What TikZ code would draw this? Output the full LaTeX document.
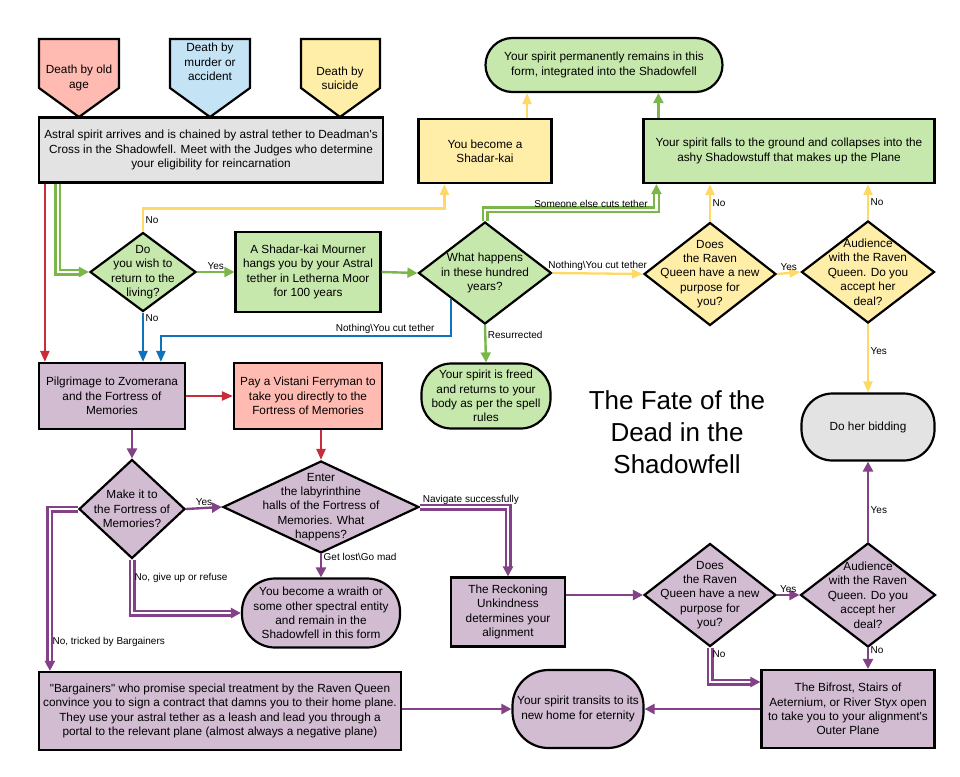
\documentclass[tikz,border=0pt]{standalone}
\usepackage{fontspec}
\setmainfont{Liberation Sans}
\usetikzlibrary{positioning}
\usetikzlibrary{shapes}
\usetikzlibrary{arrows.meta}
\usetikzlibrary{calc}

\definecolor{greenfill}{HTML}{C7E8AC}
\definecolor{greenline}{HTML}{7AB648}
\definecolor{yellowfill}{HTML}{FFEEA8}
\definecolor{yellowline}{HTML}{FFD966}
\definecolor{redfill}{HTML}{FFBBB1}
\definecolor{redline}{HTML}{C92D39}
\definecolor{bluefill}{HTML}{C4E4F6}
\definecolor{blueline}{HTML}{1072BA}
\definecolor{purplefill}{HTML}{D1BCD2}
\definecolor{purpleline}{HTML}{834187}
\definecolor{grayfill}{HTML}{E3E3E3}

\begin{document}
\begin{tikzpicture}[x=1pt, y=-1pt,
    txt/.style={align=center, font=\fontsize{11.8}{14.4}\selectfont},
    lbl/.style={font=\fontsize{10}{12}\selectfont, inner sep=1.5pt},
    box/.style={draw=black, line width=2.2pt, line join=miter},
    proc/.style={box, rectangle, inner sep=0pt, txt},
    term/.style={box, rectangle, inner sep=0pt, txt},
    quest/.style={box, diamond, inner sep=0pt},
    single/.style={line width=2.3pt, -{Triangle[length=11pt,width=9pt]}},
    dbl/.style={line width=2.4pt, double=white, double distance=2.2pt, -{Triangle[length=10pt,width=10pt]}}]
%     \draw[help lines](0,0) grid[step=20] (960,776);

    \useasboundingbox (0,0) rectangle (960,776);

    %%%% Ways to die %%%%

    \draw[box, fill=redfill] (39,39) -- (119,39) -- (119,88) -- (79,117) -- (39,88) -- cycle;
    \node[txt] (D1) at (79,78) {Death by old\\age};

    \draw[box, fill=bluefill] (170,39) -- (250,39) -- (250,88) -- (210,117) -- (170,88) -- cycle;
    \node[txt] (D2) at (210,62) {Death by\\murder or\\accident};

    \draw[box, fill=yellowfill] (301,39) -- (380,39) -- (380,88) -- (340,117) -- (301,88) -- cycle;
    \node[txt] (D3) at (340,78) {Death by\\suicide};

    \node[proc, fill=grayfill, minimum width=344, minimum height=65] (B1) at (211,150)
        {Astral spirit arrives and is chained by astral tether to Deadman\textquotesingle s\\Cross in the Shadowfell. Meet with the Judges who determine\\your eligibility for reincarnation};

    %%%% Green and yellow part %%%%

    \node[quest, fill=greenfill, minimum width=106, minimum height=79,
        label={[txt]center:{Do\\you wish to\\return to the\\living?}}] (Q1) at (143,272) {};

    \node[proc, fill=greenfill, minimum width=145, minimum height=80] (B2) at (308,272)
        {A Shadar-kai Mourner\\hangs you by your Astral\\tether in Letherna Moor\\for 100 years};

    \node[quest, fill=greenfill, minimum width=133, minimum height=102,
        label={[txt]center:{What happens\\in these hundred\\years?}}] (Q2) at (485,273) {};

    \node[proc, fill=yellowfill, minimum width=133, minimum height=64] (B3) at (485,151) {You become a\\Shadar-kai};

    \node[term, fill=greenfill, rounded corners=27pt, minimum width=237, minimum height=54] (E1) at (604,65)
        {Your spirit permanently remains in this\\form, integrated into the Shadowfell};

    \node[proc, fill=greenfill, minimum width=291, minimum height=64] (B4) at (789,151)
        {Your spirit falls to the ground and collapses into the\\ashy Shadowstuff that makes up the Plane};

    \node[quest, fill=yellowfill, minimum width=132, minimum height=103,
        label={[txt]center:{Does\\the Raven\\Queen have a new\\purpose for\\you?}}] (Q3) at (710,274) {};

    \node[quest, fill=yellowfill, minimum width=133, minimum height=102,
        label={[txt]center:{Audience\\with the Raven\\Queen. Do you\\accept her\\deal?}}] (Q4) at (868,272) {};

    \node[term, fill=greenfill, rounded corners=30pt, minimum width=129, minimum height=65] (E2) at (486,396)
        {Your spirit is freed\\and returns to your\\body as per the spell\\rules};

    \node[term, fill=grayfill, rounded corners=31pt, minimum width=133, minimum height=67] (E3) at (868,427) {Do her bidding};

    \node[align=center, font=\fontsize{26}{32}\selectfont] (T1) at (677,432) {The Fate of the\\Dead in the\\Shadowfell};

    %%%% Purple part %%%%

    \node[proc, fill=purplefill, minimum width=146, minimum height=66] (B5) at (112,396)
        {Pilgrimage to Zvomerana\\and the Fortress of\\Memories};

    \node[proc, fill=redfill, minimum width=148, minimum height=66] (B6) at (308,396)
        {Pay a Vistani Ferryman to\\take you directly to the\\Fortress of Memories};

    \node[quest, fill=purplefill, minimum width=106, minimum height=99,
        label={[txt]center:{Make it to\\the Fortress of\\Memories?}}] (Q5) at (132,509) {};

    \node[quest, fill=purplefill, minimum width=196, minimum height=92,
        label={[txt]center:{Enter\\the labyrinthine\\halls of the Fortress of\\Memories. What\\happens?}}] (Q6) at (321,507) {};

    \node[term, fill=purplefill, rounded corners=33pt, minimum width=158, minimum height=69] (E4) at (321,613)
        {You become a wraith or\\some other spectral entity\\and remain in the\\Shadowfell in this form};

    \node[proc, fill=purplefill, minimum width=114, minimum height=69] (B7) at (508,612)
        {The Reckoning\\Unkindness\\determines your\\alignment};

    \node[quest, fill=purplefill, minimum width=132, minimum height=103,
        label={[txt]center:{Does\\the Raven\\Queen have a new\\purpose for\\you?}}] (Q7) at (710,595) {};

    \node[quest, fill=purplefill, minimum width=135, minimum height=104,
        label={[txt]center:{Audience\\with the Raven\\Queen. Do you\\accept her\\deal?}}] (Q8) at (868,595) {};

    \node[proc, fill=purplefill, minimum width=173, minimum height=78] (B8) at (848,709)
        {The Bifrost, Stairs of\\Aeternium, or River Styx open\\to take you to your alignment\textquotesingle s\\Outer Plane};

    \node[term, fill=purplefill, rounded corners=36pt, minimum width=131, minimum height=78] (E5) at (578,709)
        {Your spirit transits to its\\new home for eternity};

    \node[proc, fill=purplefill, minimum width=362, minimum height=78] (B9) at (220,711)
        {\textquotedbl Bargainers\textquotedbl{} who promise special treatment by the Raven Queen\\convince you to sign a contract that damns you to their home plane.\\They use your astral tether as a leash and lead you through a\\portal to the relevant plane (almost always a negative plane)};

    %%%% Connectors %%%%

    \path[single, redline] ([xshift=7pt]B1.south west) edge ([xshift=7pt]B5.north west);
    \draw[dbl, greenline] ([xshift=20pt]B1.south west) |- (Q1.west);

    \draw[single, yellowline] (Q1.north) -- ++(0,-23) node[lbl, black, pos=0.5, right]{No}
        -| ([xshift=27pt]B3.south west);
    \path[dbl, greenline] (Q1.east) edge node[lbl, black, above]{Yes} (B2.west);
    \path[single, blueline] (Q1.south) edge node[lbl, black, pos=0.12, right]{No} (Q1.south |- B5.north);
    \path[dbl, greenline] (B2.east) edge (Q2.west);

    \draw[single, blueline] (Q2.south west) -- ++(0,37) node[lbl, black, above left, xshift=-14pt]{Nothing\textbackslash You cut tether}
        -| ([xshift=123pt]B5.north west);
    \draw[dbl, greenline] (Q2.north) -- ++(0,-11) -| ([xshift=14pt]B4.south west)
        node[lbl, black, pos=0.5, above left, xshift=-6pt]{Someone else cuts tether};
    \path[dbl, greenline] (Q2.south) edge node[lbl, black, pos=0.25, right]{Resurrected} (E2.north);

    \path[single, yellowline] ([xshift=42pt]B3.north) edge ([xshift=42pt]B3.north |- E1.south);
    \path[dbl, greenline] ([xshift=16pt]B4.north west) edge ([xshift=16pt]B4.north west |- E1.south);

    \path[single, yellowline] (Q2.east) edge node[lbl, black, above]{Nothing\textbackslash You cut tether} (Q3.west);
    \path[single, yellowline] (Q3.north) edge node[lbl, black, right]{No} (Q3.north |- B4.south);
    \path[single, yellowline] (Q3.east) edge node[lbl, black, above]{Yes} (Q4.west);
    \path[single, yellowline] (Q4.north) edge node[lbl, black, right]{No} (Q4.north |- B4.south);
    \path[single, yellowline] (Q4.south) edge node[lbl, black, pos=0.4, right]{Yes} (E3.north);

    \path[single, redline] (B5.east) edge (B6.west);
    \path[single, redline] (B6.south -| Q6.north) edge (Q6.north);
    \path[dbl, purpleline] (B5.south -| Q5.north) edge (Q5.north);
    \path[dbl, purpleline] (Q5.east) edge node[lbl, black, above]{Yes} (Q6.west);

    \draw[dbl, purpleline] (Q6.east) node[lbl, black, above right]{Navigate successfully} -| (B7.north);
    \path[dbl, purpleline] (Q6.south) edge node[lbl, black, pos=0.12, right]{Get lost\textbackslash Go mad} (E4.north);
    \draw[dbl, purpleline] (Q5.south) |- (E4.west) node[lbl, black, pos=0.17, right]{No, give up or refuse};
    \draw[dbl, purpleline] (Q5.west) -| ([xshift=12pt]B9.north west) node[lbl, black, pos=0.91, right]{No, tricked by Bargainers};
    \path[dbl, purpleline] (B9.east |- E5.west) edge (E5.west);

    \path[dbl, purpleline] (B7.east |- Q7.west) edge (Q7.west);
    \path[dbl, purpleline] (Q7.east) edge node[lbl, black, above]{Yes} (Q8.west);
    \path[dbl, purpleline] (Q8.north) edge node[lbl, black, pos=0.4, right]{Yes} (E3.south);
    \path[dbl, purpleline] (Q8.south) edge node[lbl, black, pos=0.1, right]{No} (Q8.south |- B8.north);
    \draw[dbl, purpleline] (Q7.south) |- ([yshift=27pt]B8.west) node[lbl, black, pos=0.1, right]{No};
    \path[dbl, purpleline] (B8.west) edge (E5.east);

\end{tikzpicture}
\end{document}
